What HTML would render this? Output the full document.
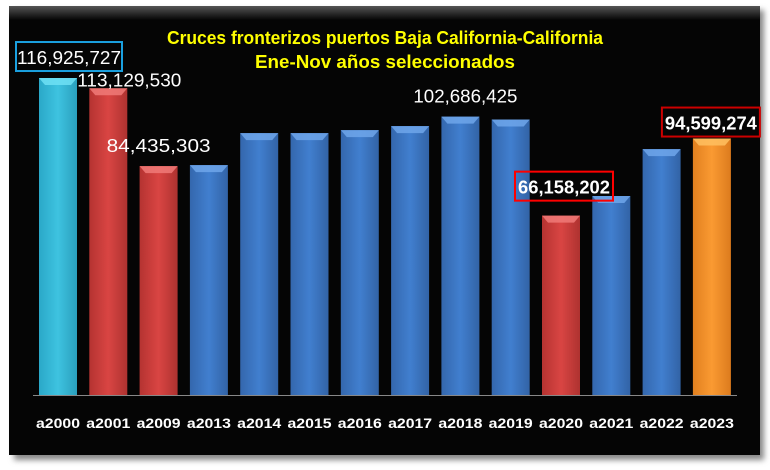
<!DOCTYPE html>
<html><head><meta charset="utf-8"><style>
html,body{margin:0;padding:0;background:#fff;width:770px;height:470px;overflow:hidden}
svg{display:block}
text{font-family:"Liberation Sans",sans-serif}
</style></head><body>
<svg id="chart" width="770" height="470" viewBox="0 0 770 470">
<defs>
<filter id="sh" x="-5%" y="-5%" width="115%" height="115%"><feGaussianBlur stdDeviation="3"/></filter>
<linearGradient id="topband" x1="0" y1="0" x2="0" y2="1"><stop offset="0" stop-color="#555"/><stop offset="1" stop-color="#050505"/></linearGradient>
<linearGradient id="g-cyan" x1="0" x2="1"><stop offset="0" stop-color="#2aa8c8"/><stop offset="0.5" stop-color="#3ec3e0"/><stop offset="1" stop-color="#2a9fbd"/></linearGradient>
<linearGradient id="g-red" x1="0" x2="1"><stop offset="0" stop-color="#b53331"/><stop offset="0.5" stop-color="#d94543"/><stop offset="1" stop-color="#ae3230"/></linearGradient>
<linearGradient id="g-blue" x1="0" x2="1"><stop offset="0" stop-color="#3467ad"/><stop offset="0.5" stop-color="#417fcf"/><stop offset="1" stop-color="#3263a6"/></linearGradient>
<linearGradient id="g-orange" x1="0" x2="1"><stop offset="0" stop-color="#e1801f"/><stop offset="0.5" stop-color="#fa9a32"/><stop offset="1" stop-color="#dc7b1d"/></linearGradient>
</defs>
<rect x="14" y="10" width="750" height="450" fill="#888" filter="url(#sh)"/>
<rect x="9" y="6" width="751" height="449" fill="#050505"/>
<rect x="9" y="6" width="751" height="14" fill="url(#topband)"/>
<text x="385" y="44" fill="#ffff00" font-size="18" font-weight="bold" text-anchor="middle" textLength="436" lengthAdjust="spacingAndGlyphs">Cruces fronterizos puertos  Baja California-California</text>
<text x="385" y="68" fill="#ffff00" font-size="18" font-weight="bold" text-anchor="middle" textLength="260" lengthAdjust="spacingAndGlyphs">Ene-Nov años seleccionados</text>
<line x1="33" y1="395.5" x2="737" y2="395.5" stroke="#888" stroke-width="1"/>
<g id="bars"></g>
<g id="labels"></g>
<g id="cats"></g>
</svg>
<script>
const categories = ["a2000","a2001","a2009","a2013","a2014","a2015","a2016","a2017","a2018","a2019","a2020","a2021","a2022","a2023"];
const values = [116925727,113129530,84435303,84800000,96600000,96600000,97700000,99200000,102686425,101600000,66158202,73400000,90700000,94599274];
const colors = ["cyan","red","red","blue","blue","blue","blue","blue","blue","blue","red","blue","blue","orange"];
const labeledIdx = [0,1,2,8,10,13];

const NS="http://www.w3.org/2000/svg";
const baseY=395, pxPerM=2.711, x0=58, pitch=50.3, bw=38;
function xCenter(i){return x0+i*pitch;}
function yVal(v){return baseY - v/1e6*pxPerM;}
function mk(tag,attrs,parent){const e=document.createElementNS(NS,tag);for(const k in attrs)e.setAttribute(k,attrs[k]);parent.appendChild(e);return e;}
const bars=document.getElementById('bars'), labels=document.getElementById('labels'), cats=document.getElementById('cats');
const bevel={cyan:"#6fe0f5",red:"#f07a78",blue:"#6fa6ea",orange:"#ffc060"};
categories.forEach((c,i)=>{
  const cx=xCenter(i), top=yVal(values[i]), l=cx-bw/2;
  const r=mk('rect',{x:l,y:top,width:bw,height:baseY-top,fill:'url(#g-'+colors[i]+')'},bars);
  
  
  const p=mk('polygon',{points:`${l},${top} ${l+bw},${top} ${l+bw-6},${top+7} ${l+6},${top+7}`,fill:bevel[colors[i]],opacity:0.85},bars);
  
  
  const t=mk('text',{x:cx,y:428,fill:'#fff','font-size':14,'font-weight':'bold','text-anchor':'middle',textLength:44,lengthAdjust:'spacingAndGlyphs'},cats);
  t.textContent=c;
  
  
});
// value labels: [dx from bar center, dy from bar top, bold, box color]
const labelStyle={0:[7,-14,false,'#1aa0e0'],1:[21,-2,false,null],2:[0,-14,false,null],8:[5,-14,false,null],10:[3,-22,true,'#ff0000'],13:[-1,-9,true,'#cc0000']};
labeledIdx.forEach(i=>{
  const s=labelStyle[i], cx=xCenter(i)+s[0], ty=yVal(values[i])+s[1];
  const txt=values[i].toLocaleString('en-US');
  if(s[3]){
    const b=mk('rect',{x:cx-49,y:ty-22,width:98+ (i===0?8:0),height:29,fill:'none',stroke:s[3],'stroke-width':2},labels);
    
    
  }
  const t=mk('text',{x:cx+(i===0?4:0),y:ty,fill:'#fff','font-size':18,'font-weight':s[2]?'bold':'normal','text-anchor':'middle',textLength:s[2]?92:104,lengthAdjust:'spacingAndGlyphs'},labels);
  t.textContent=txt;
  
  
});
</script>
</body></html>
